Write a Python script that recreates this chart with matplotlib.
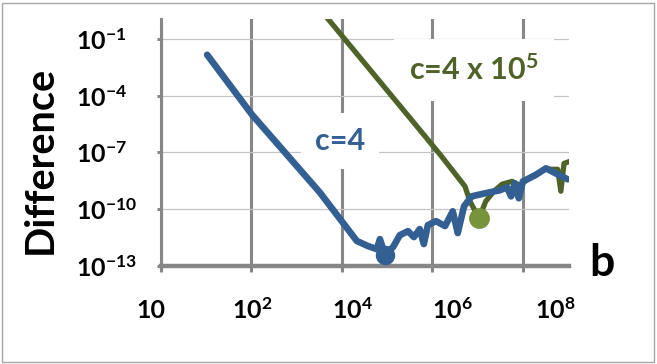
import numpy as np
import matplotlib
matplotlib.use("Agg")
import matplotlib.pyplot as plt

# fonts: Lato bold stands in for Calibri bold
plt.rcParams['font.family'] = ['Lato', 'DejaVu Sans']
plt.rcParams['font.weight'] = 'bold'
plt.rcParams['mathtext.fontset'] = 'custom'
plt.rcParams['mathtext.rm'] = 'Lato:bold'
plt.rcParams['mathtext.it'] = 'Lato:bold'
plt.rcParams['mathtext.bf'] = 'Lato:bold'

# data as log10 values
blue_logb = [1.02, 2.01, 3.51, 4.33, 4.58, 4.77, 4.84, 4.95, 5.13, 5.28, 5.46,
             5.59, 5.72, 5.81, 5.90, 6.08, 6.28, 6.45, 6.56, 6.70, 6.87, 7.16,
             7.49, 7.65, 7.74, 7.82, 7.91, 8.00, 8.27, 8.51, 8.73, 8.99]
blue_logd = [-1.84, -5.00, -9.11, -11.68, -11.95, -12.11, -11.58, -12.42, -12.00,
             -11.37, -11.16, -11.47, -11.05, -11.84, -10.84, -10.63, -10.89,
             -10.11, -11.26, -9.84, -9.32, -9.16, -9.00, -8.84, -9.32, -8.63,
             -9.42, -8.53, -8.21, -7.84, -8.11, -8.42]
green_logb = [3.40, 5.57, 6.17, 6.72, 6.83, 7.03, 7.18, 7.36, 7.54, 7.76, 7.93,
              8.16, 8.49, 8.77, 8.84, 8.91, 9.04]
green_logd = [0.90, -5.37, -7.11, -8.79, -9.58, -10.47, -9.58, -9.05, -8.68,
              -8.53, -8.74, -8.32, -7.89, -7.89, -9.05, -7.58, -7.47]
blue_min = (4.95, -12.42)
green_min = (7.03, -10.47)

xtick_vals = [1, 1e2, 1e4, 1e6, 1e8]
xtick_labels = ['10', '$10^2$', '$10^4$', '$10^6$', '$10^8$']
ytick_vals = [1e-1, 1e-4, 1e-7, 1e-10, 1e-13]
ytick_labels = ['$10^{-1}$', '$10^{-4}$', '$10^{-7}$', '$10^{-10}$', '$10^{-13}$']

BLUE = '#335F93'
GREEN = '#4F6228'
GREEN_DOT = '#77933C'
GRID = '#878787'

W, H = 657, 364
fig = plt.figure(figsize=(W / 100, H / 100), dpi=100)
ax = fig.add_axes([161 / W, 1 - 266 / H, (569 - 161) / W, (266 - 19) / H])

bx = 10 ** np.array(blue_logb)
by = 10 ** np.array(blue_logd)
gx = 10 ** np.array(green_logb)
gy = 10 ** np.array(green_logd)

ax.plot(gx, gy, color=GREEN, lw=3.8, solid_capstyle='round',
        solid_joinstyle='round', zorder=3)
ax.plot(bx, by, color=BLUE, lw=4.8, solid_capstyle='round',
        solid_joinstyle='round', zorder=4)
ax.plot(10 ** blue_min[0], 10 ** blue_min[1], 'o', color=BLUE, ms=13, zorder=5)
ax.plot(10 ** green_min[0], 10 ** green_min[1], 'o', color=GREEN_DOT, ms=14, zorder=5)

ax.set_xscale('log')
ax.set_yscale('log')
ax.set_xlim(1, 10 ** 9.02)
ax.set_ylim(1e-13, 10 ** 0.05)

ax.set_xticks(xtick_vals)
ax.set_xticklabels([])
ax.minorticks_off()
ax.set_yticks(ytick_vals)
ax.set_yticklabels(ytick_labels, fontsize=18)
for lab in ax.get_yticklabels():
    lab.set_horizontalalignment('left')
ax.tick_params(axis='y', pad=58, length=3, width=2.2, color=GRID)
ax.tick_params(axis='x', length=4, width=2.2, color=GRID)

ax.grid(axis='x', color=GRID, lw=2.2, zorder=0)
ax.grid(axis='y', color='#c4c4c4', lw=0.9, zorder=0)
ax.set_axisbelow(True)
for s in ['top', 'right']:
    ax.spines[s].set_visible(False)
ax.spines['left'].set_color(GRID)
ax.spines['left'].set_linewidth(2.2)
ax.spines['bottom'].set_color(GRID)
ax.spines['bottom'].set_linewidth(3.2)

# series labels with white boxes that hide the grid behind them
ax.text(340 / W, 1 - 141 / H, 'c=4', transform=fig.transFigure, color=BLUE,
        fontsize=22, ha='center', va='center', zorder=2,
        bbox=dict(boxstyle='square,pad=0.45', fc='white', ec='none'))
ax.text(474 / W, 1 - 70 / H, r'c=4 x 10$^5$', transform=fig.transFigure,
        color=GREEN, fontsize=22, ha='center', va='center', zorder=2,
        bbox=dict(boxstyle='square,pad=0.5', fc='white', ec='none'))

# x tick labels sit a little off the grid lines in the original
xlab_px = [151, 252, 352, 452, 555]
for px, lab in zip(xlab_px, xtick_labels):
    fig.text(px / W, 1 - 310 / H, lab, fontsize=18, ha='center', va='center')

fig.text(40 / W, 1 - 160 / H, 'Difference', fontsize=28.5, rotation=90,
         ha='center', va='center')
fig.text(602 / W, 1 - 263 / H, 'b', fontsize=32, ha='center', va='center')

# thin border round the figure
fig.patches.append(plt.Rectangle((2 / W, 2 / H), 1 - 5 / W, 1 - 5 / H,
                                 transform=fig.transFigure, fill=False,
                                 ec='#a6a6a6', lw=1))

fig.savefig('out.png', dpi=100)
